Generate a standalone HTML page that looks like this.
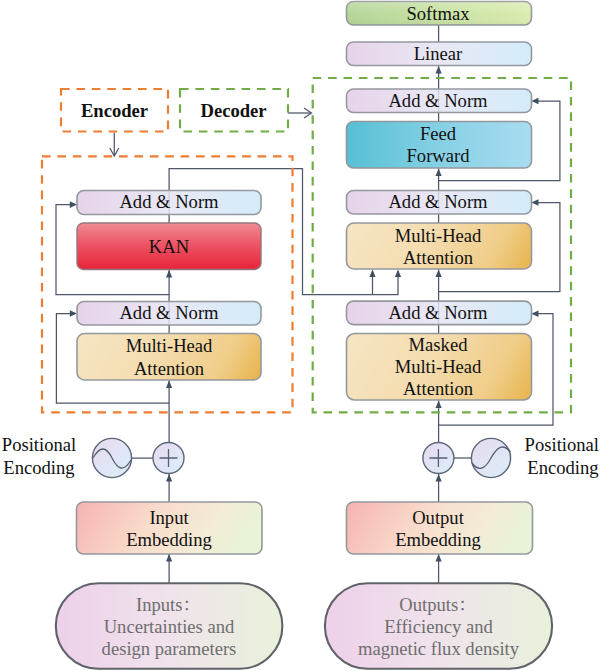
<!DOCTYPE html>
<html>
<head>
<meta charset="utf-8">
<title>KAN Transformer</title>
<style>
html,body{margin:0;padding:0;background:#fff;}
svg{display:block;}
text{font-family:"Liberation Serif","Noto Serif CJK SC",serif;font-size:18.6px;fill:#111;}
.b{font-weight:bold;}
.g{fill:#6e6e6e;}
.ln{stroke:#4e5667;stroke-width:1.25;fill:none;}
.ah{fill:#414f63;stroke:none;}
.bx{stroke:#94989d;stroke-width:1.6;}
</style>
</head>
<body>
<svg width="601" height="671" viewBox="0 0 601 671">
<defs>
<linearGradient id="gAN" x1="0" y1="0" x2="1" y2="0"><stop offset="0" stop-color="#e7d3ea"/><stop offset="0.5" stop-color="#e9e8f5"/><stop offset="1" stop-color="#d3ecfa"/></linearGradient>
<linearGradient id="gKAN" x1="0" y1="0" x2="0" y2="1"><stop offset="0" stop-color="#f08c93"/><stop offset="0.45" stop-color="#ed5666"/><stop offset="1" stop-color="#e6233a"/></linearGradient>
<linearGradient id="gMHA1" gradientUnits="userSpaceOnUse" x1="77" y1="333.5" x2="235.1" y2="424.8"><stop offset="0" stop-color="#f6e5c4"/><stop offset="0.45" stop-color="#f4dcae"/><stop offset="0.78" stop-color="#f0cd88"/><stop offset="1" stop-color="#e7b34a"/></linearGradient>
<linearGradient id="gMHA2" gradientUnits="userSpaceOnUse" x1="346.5" y1="223" x2="505.2" y2="314.6"><stop offset="0" stop-color="#f6e5c4"/><stop offset="0.45" stop-color="#f4dcae"/><stop offset="0.78" stop-color="#f0cd88"/><stop offset="1" stop-color="#e7b34a"/></linearGradient>
<linearGradient id="gMHA3" gradientUnits="userSpaceOnUse" x1="346.5" y1="333.5" x2="514.0" y2="430.2"><stop offset="0" stop-color="#f6e5c4"/><stop offset="0.45" stop-color="#f4dcae"/><stop offset="0.78" stop-color="#f0cd88"/><stop offset="1" stop-color="#e7b34a"/></linearGradient>
<linearGradient id="gFF" x1="0" y1="0" x2="1" y2="0"><stop offset="0" stop-color="#56c0d4"/><stop offset="0.5" stop-color="#86d0e4"/><stop offset="1" stop-color="#a9dcf0"/></linearGradient>
<linearGradient id="gSM" x1="0" y1="0" x2="1" y2="0"><stop offset="0" stop-color="#b4d698"/><stop offset="1" stop-color="#dcecb0"/></linearGradient>
<linearGradient id="gEMB" x1="0" y1="0" x2="1" y2="0.18"><stop offset="0" stop-color="#f6b3af"/><stop offset="0.45" stop-color="#f9dccb"/><stop offset="0.8" stop-color="#f3ecd6"/><stop offset="1" stop-color="#e9f3d6"/></linearGradient>
<linearGradient id="gPILL" x1="0" y1="0" x2="1" y2="0"><stop offset="0" stop-color="#edd0e9"/><stop offset="0.5" stop-color="#f0e3ec"/><stop offset="1" stop-color="#e8f1da"/></linearGradient>
<linearGradient id="gCIR" x1="0.1" y1="0.1" x2="0.9" y2="0.9"><stop offset="0" stop-color="#e6dcf0"/><stop offset="1" stop-color="#dcecf8"/></linearGradient>
<linearGradient id="gSheen" x1="0" y1="0" x2="0" y2="1"><stop offset="0" stop-color="#fff" stop-opacity="0.22"/><stop offset="0.55" stop-color="#fff" stop-opacity="0"/><stop offset="1" stop-color="#000" stop-opacity="0.04"/></linearGradient>
</defs>
<rect width="601" height="671" fill="#fff"/>

<!-- lines -->
<g class="ln">
<!-- encoder trunk -->
<path d="M169.1 583 V168.500 H302.500 V294.500 H398 V271"/>
<path d="M372.500 294.500 V271"/>
<path d="M114 458 H153"/>
<path d="M169.1 403 H56.400 V313.500 H72"/>
<path d="M169.1 294.500 H56 V204.600 H72"/>
<path d="M114.300 132.500 V155.500"/><path d="M109.800 148 L114.300 156 L118.800 148"/>
<path d="M288 113 H311"/><path d="M304 108 L311.500 113 L304 118"/>
<!-- decoder trunk -->
<path d="M438.6 583 V25"/>
<path d="M453 458 H471"/>
<path d="M438.6 425 H553 V313.700 H537"/>
<path d="M438.6 291.500 H559.900 V202.500 H537"/>
<path d="M438.6 180.500 H559.900 V101 H537"/>
</g>
<!-- arrowheads -->
<g class="ah">
<path d="M169.1 554 l-3.1 7.4 h6.2z"/>
<path d="M169.1 474 l-3.1 7.4 h6.2z"/>
<path d="M169.1 380.500 l-3.1 7.4 h6.2z"/>
<path d="M169.1 270 l-3.1 7.4 h6.2z"/>
<path d="M77 313.500 l-7.2 -3.3 v6.6z"/>
<path d="M77 204.600 l-7.2 -3.3 v6.6z"/>
<path d="M372.500 269.500 l-3.1 7.4 h6.2z"/>
<path d="M398 269.500 l-3.1 7.4 h6.2z"/>
<path d="M438.6 554 l-3.1 7.4 h6.2z"/>
<path d="M438.6 474 l-3.1 7.4 h6.2z"/>
<path d="M438.6 400.500 l-3.1 7.4 h6.2z"/>
<path d="M438.6 269.500 l-3.1 7.4 h6.2z"/>
<path d="M438.6 168.500 l-3.1 7.4 h6.2z"/>
<path d="M438.6 66 l-3.1 7.4 h6.2z"/>
<path d="M531.300 313.700 l7.2 -3.3 v6.6z"/>
<path d="M531.300 202.500 l7.2 -3.3 v6.6z"/>
<path d="M531.300 101 l7.2 -3.3 v6.6z"/>
</g>

<!-- dashed frames -->
<g fill="none" stroke-width="2.2" stroke-dasharray="8.6 6.8">
<rect x="61" y="89" width="107" height="42.5" stroke="#ed7d31"/>
<rect x="180" y="89" width="108" height="42.5" stroke="#70ad47"/>
<rect x="42" y="156.400" width="250.500" height="256" stroke="#ed7d31"/>
<rect x="312.700" y="78" width="258.300" height="334.400" stroke="#70ad47"/>
</g>

<!-- boxes -->
<g class="bx">
<!-- encoder -->
<rect x="77" y="190.500" width="184" height="24" rx="7" fill="url(#gAN)"/>
<rect x="77" y="223" width="184" height="46.500" rx="6.500" fill="url(#gKAN)" stroke="#94757e" stroke-width="1.400"/>
<rect x="77" y="301.500" width="184" height="23.500" rx="7" fill="url(#gAN)"/>
<rect x="77" y="333.500" width="184" height="46.500" rx="7.500" fill="url(#gMHA1)"/>
<rect x="76.500" y="502" width="185.500" height="52" rx="7" fill="url(#gEMB)"/>
<rect x="55.800" y="583.300" width="226.600" height="85.500" rx="42.750" fill="url(#gPILL)" stroke="#5f6368" stroke-width="2.100"/>
<!-- decoder -->
<rect x="346.500" y="1.500" width="185" height="23.500" rx="7" fill="url(#gSM)"/><rect x="346.500" y="1.500" width="185" height="23.500" rx="7" fill="url(#gSheen)" stroke="none"/>
<rect x="346.500" y="42" width="185" height="23.500" rx="7" fill="url(#gAN)"/>
<rect x="346.500" y="89" width="185" height="23.500" rx="7" fill="url(#gAN)"/>
<rect x="346.500" y="121.500" width="185" height="46.500" rx="7" fill="url(#gFF)"/>
<rect x="346.500" y="190.500" width="185" height="23.500" rx="7" fill="url(#gAN)"/>
<rect x="346.500" y="223" width="185" height="46" rx="7.500" fill="url(#gMHA2)"/>
<rect x="346.500" y="301.100" width="185" height="23.500" rx="7" fill="url(#gAN)"/>
<rect x="346.500" y="333.500" width="185" height="66.500" rx="8" fill="url(#gMHA3)"/>
<rect x="346.500" y="502" width="186" height="52" rx="7" fill="url(#gEMB)"/>
<rect x="324.900" y="583.300" width="227.200" height="85.500" rx="42.750" fill="url(#gPILL)" stroke="#5f6368" stroke-width="2.100"/>
</g>
<!-- thin trunk line visible through Add&Norm -->
<g stroke="#8a90a0" stroke-width="1" fill="none" opacity="0.35">
<path d="M169.1 191 V214"/><path d="M169.1 302 V325"/>
<path d="M438.6 89.500 V112"/><path d="M438.6 191 V214"/><path d="M438.6 302 V325"/>
</g>

<!-- circles -->
<g stroke="#5b6677" stroke-width="1.400" fill="url(#gCIR)">
<circle cx="112" cy="458" r="19.600"/>
<circle cx="168.500" cy="458" r="15.500"/>
<circle cx="438.400" cy="458" r="15.500"/>
<circle cx="491" cy="458" r="19.600"/>
</g>
<g class="ln" style="stroke:#566074;stroke-width:1.3">
<path d="M159.500 458 H177.500 M168.500 449 V467"/>
<path d="M429.400 458 H447.400 M438.400 449 V467"/>
<path d="M93 458 C100 446 106 446 112 458 S124 472 131 460"/>
<path d="M472 463 C478.500 471.500 484.500 470 491 458 S503.500 443.500 510.400 452"/>
</g>

<!-- text -->
<g text-anchor="middle">
<text x="114.500" y="116.500" class="b">Encoder</text>
<text x="233.500" y="116.500" class="b">Decoder</text>
<text x="169" y="208.200">Add &amp; Norm</text>
<text x="169" y="252.500">KAN</text>
<text x="169" y="319.200">Add &amp; Norm</text>
<text x="169" y="352">Multi-Head</text>
<text x="169" y="375">Attention</text>
<text x="169" y="523.500">Input</text>
<text x="169" y="545.700">Embedding</text>
<text x="168.500" y="610.800" class="g">Inputs：</text>
<text x="169" y="633.100" class="g">Uncertainties and</text>
<text x="169" y="655.400" class="g">design parameters</text>

<text x="438" y="19.500">Softmax</text>
<text x="438" y="60">Linear</text>
<text x="438" y="107">Add &amp; Norm</text>
<text x="438" y="139.500">Feed</text>
<text x="438" y="162">Forward</text>
<text x="438" y="208.200">Add &amp; Norm</text>
<text x="438" y="242">Multi-Head</text>
<text x="438" y="264">Attention</text>
<text x="438" y="319.200">Add &amp; Norm</text>
<text x="438" y="350.500">Masked</text>
<text x="438" y="372.500">Multi-Head</text>
<text x="438" y="395">Attention</text>
<text x="438" y="523.500">Output</text>
<text x="438" y="545.700">Embedding</text>
<text x="438" y="610.800" class="g">Outputs：</text>
<text x="438.500" y="633.100" class="g">Efficiency and</text>
<text x="438.500" y="655.400" class="g">magnetic flux density</text>

<text x="39" y="451.400">Positional</text>
<text x="39" y="474.400">Encoding</text>
<text x="561.800" y="451">Positional</text>
<text x="563" y="474">Encoding</text>
</g>
</svg>
</body>
</html>
